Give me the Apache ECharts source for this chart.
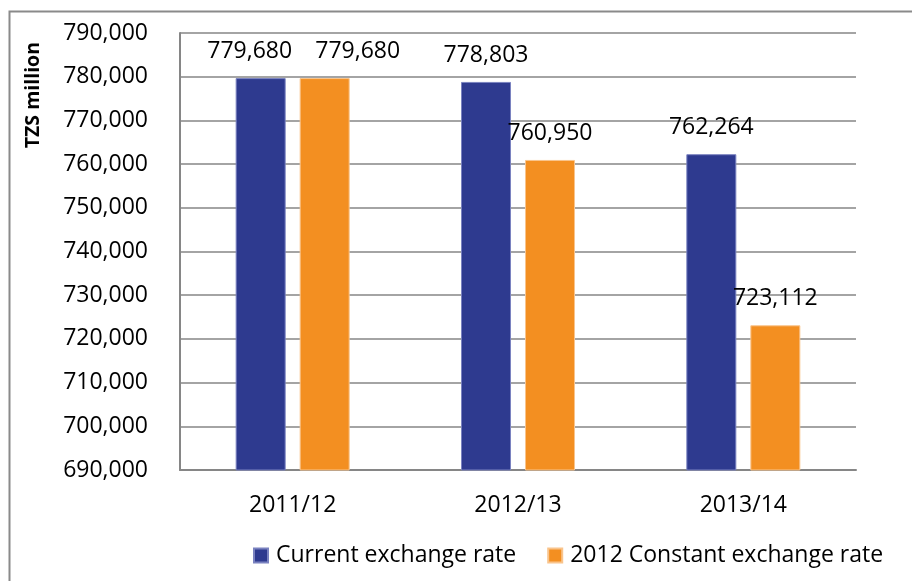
<!DOCTYPE html>
<html>
<head>
<meta charset="utf-8">
<script src="https://cdn.jsdelivr.net/npm/echarts@6/dist/echarts.min.js"></script>
<style>
  html, body { margin: 0; padding: 0; background: #fff; }
  #chart { width: 912px; height: 581px; }
</style>
</head>
<body>
<div id="chart"></div>
<script>
// Fiscal years on the category axis
const years = ['2011/12', '2012/13', '2013/14'];
// Values in TZS million
const currentRate = [779680, 778803, 762264];
const constantRate = [779680, 760950, 723112];
const seriesNames = ['Current exchange rate', '2012 Constant exchange rate'];
// Value axis range
const yMin = 690000;
const yMax = 790000;
const yStep = 10000;

const FONT = '"Open Sans", sans-serif';
const fmt = v => Number(v).toLocaleString('en-US');

// The first pair of labels share a value, so they are nudged apart horizontally
const currentData = currentRate.map((v, i) => i === 0 ? { value: v, label: { offset: [-11, 0] } } : v);
const constantData = constantRate.map((v, i) => i === 0 ? { value: v, label: { offset: [33, 0] } } : v);

const labelStyle = {
  show: true,
  position: 'top',
  distance: 15,
  color: '#000',
  fontFamily: FONT,
  fontSize: 23,
  formatter: p => fmt(p.value)
};

const chart = echarts.init(document.getElementById('chart'), null, { renderer: 'canvas' });
chart.setOption({
  animation: false,
  backgroundColor: '#fff',
  graphic: [{
    type: 'rect',
    left: 7, top: 9,
    shape: { width: 940, height: 620 },
    style: { fill: 'none', stroke: '#8a8a8a', lineWidth: 2 },
    silent: true
  }, {
    type: 'text',
    left: 23, top: 42,
    rotation: Math.PI / 2,
    style: {
      text: 'TZS million',
      fill: '#000',
      font: 'bold 19.5px "Open Sans", sans-serif'
    }
  }],
  grid: { left: 180, right: 56, top: 33, bottom: 111, containLabel: false },
  legend: {
    left: 248,
    top: 539,
    icon: 'rect',
    itemWidth: 14,
    itemHeight: 14,
    itemGap: 31,
    textStyle: { fontFamily: FONT, fontSize: 23, color: '#000', padding: [0, 0, 0, 3] },
    data: seriesNames
  },
  xAxis: {
    type: 'category',
    data: years,
    axisLine: { show: true, lineStyle: { color: '#868686', width: 2 } },
    axisTick: { show: false },
    axisLabel: { color: '#000', fontFamily: FONT, fontSize: 23, margin: 24 },
    splitLine: { show: false }
  },
  yAxis: {
    type: 'value',
    min: yMin,
    max: yMax,
    interval: yStep,
    axisLine: { show: true, lineStyle: { color: '#868686', width: 2 } },
    axisTick: { show: false },
    axisLabel: { color: '#000', fontFamily: FONT, fontSize: 23, margin: 32, formatter: v => fmt(v) },
    splitLine: { show: true, lineStyle: { color: '#868686', width: 1.5 } }
  },
  series: [{
    name: seriesNames[0],
    type: 'bar',
    barWidth: 50,
    barGap: '28%',
    data: currentData,
    itemStyle: { color: '#2E3A8F', borderColor: '#7a82c0', borderWidth: 1 },
    label: labelStyle
  }, {
    name: seriesNames[1],
    type: 'bar',
    barWidth: 50,
    data: constantData,
    itemStyle: { color: '#F38F21', borderColor: '#f9c48c', borderWidth: 1 },
    label: labelStyle
  }]
});
</script>
</body>
</html>
